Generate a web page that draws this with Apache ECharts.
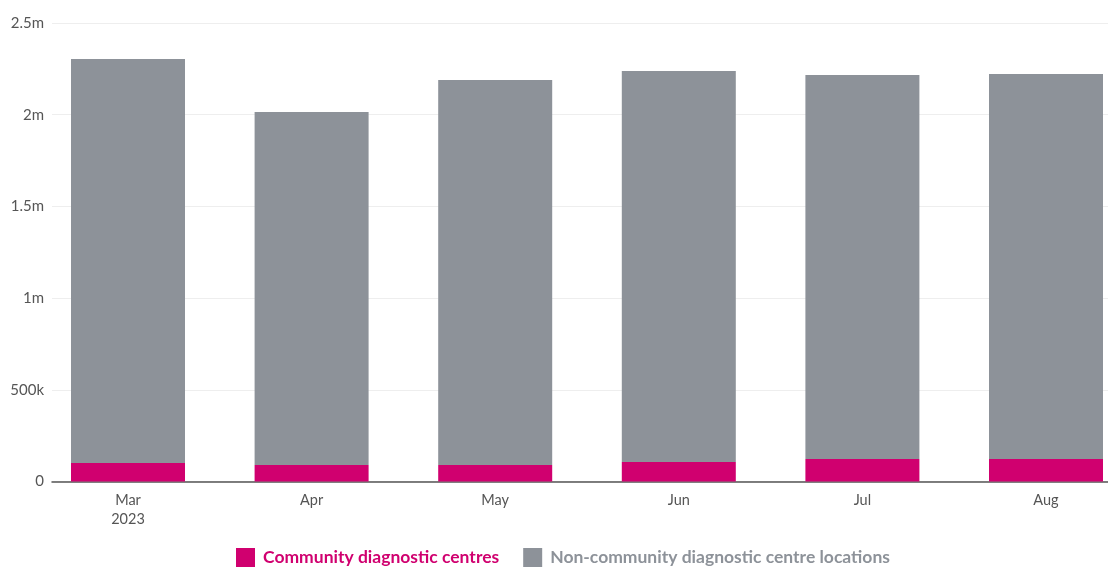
<!DOCTYPE html>
<html><head><meta charset="utf-8">
<script src="https://cdn.jsdelivr.net/npm/echarts@6/dist/echarts.min.js"></script>
<style>html,body{margin:0;padding:0;background:#fff}#c{width:1108px;height:567px}</style>
</head><body><div id="c"></div>
<script>
const categories = ["Mar\n2023", "Apr", "May", "Jun", "Jul", "Aug"];
const community = [101000, 90000, 90000, 106000, 123000, 123000];
const nonCommunity = [2203000, 1925000, 2099000, 2132000, 2094000, 2099000];
const yTicks = [0, 500000, 1000000, 1500000, 2000000, 2500000];
const seriesNames = ["Community diagnostic centres", "Non-community diagnostic centre locations"];

const FONT = "Lato";
const chart = echarts.init(document.getElementById('c'), null, {renderer: 'canvas'});
function fmtY(v) {
  if (v === 0) return '0';
  if (v >= 1000000) return (v / 1000000) + 'm';
  return (v / 1000) + 'k';
}
const yMin = yTicks[0], yMax = yTicks[yTicks.length - 1], yStep = yTicks[1] - yTicks[0];
chart.setOption({
  animation: false,
  textStyle: {fontFamily: FONT},
  grid: [
    {left: 36.2, width: 1101.6, top: 23, bottom: 85.5, containLabel: false, outerBoundsMode: 'none'},
    {left: 52, right: 0, top: 23, bottom: 85.5, containLabel: false, outerBoundsMode: 'none'}
  ],
  legend: {
    left: 236, top: 548, padding: 0, itemWidth: 19, itemHeight: 19, itemGap: 24,
    icon: 'rect',
    textStyle: {fontFamily: FONT, fontSize: 17.5, fontWeight: 'bold', padding: [0, 0, 0, 3]},
    data: [
      {name: seriesNames[0], textStyle: {color: '#D0006F'}},
      {name: seriesNames[1], textStyle: {color: '#8D9299'}}
    ]
  },
  xAxis: [
    {
      type: 'category', gridIndex: 0, data: categories, boundaryGap: true,
      axisLine: {show: false}, axisTick: {show: false}, splitLine: {show: false},
      axisLabel: {color: '#555', fontSize: 14.5, fontFamily: FONT, margin: 9, lineHeight: 19.5}
    },
    {
      type: 'value', gridIndex: 1, min: 0, max: 1,
      axisLine: {show: true, lineStyle: {color: '#555', width: 1.5}},
      axisTick: {show: false}, splitLine: {show: false}, axisLabel: {show: false}
    }
  ],
  yAxis: [
    {
      type: 'value', gridIndex: 0, min: yMin, max: yMax, interval: yStep,
      show: false, splitLine: {show: false}
    },
    {
      type: 'value', gridIndex: 1, min: yMin, max: yMax, interval: yStep,
      axisLine: {show: false}, axisTick: {show: false},
      splitLine: {lineStyle: {color: '#eeeeee', width: 1}},
      axisLabel: {color: '#555', fontSize: 15, fontFamily: FONT, margin: 8, formatter: fmtY}
    }
  ],
  series: [
    {name: seriesNames[0], type: 'bar', stack: 'a', barWidth: 114, xAxisIndex: 0, yAxisIndex: 0,
      itemStyle: {color: '#D0006F'}, data: community, z: 3},
    {name: seriesNames[1], type: 'bar', stack: 'a', barWidth: 114, xAxisIndex: 0, yAxisIndex: 0,
      itemStyle: {color: '#8D9299'}, data: nonCommunity, z: 3}
  ]
});
</script></body></html>
